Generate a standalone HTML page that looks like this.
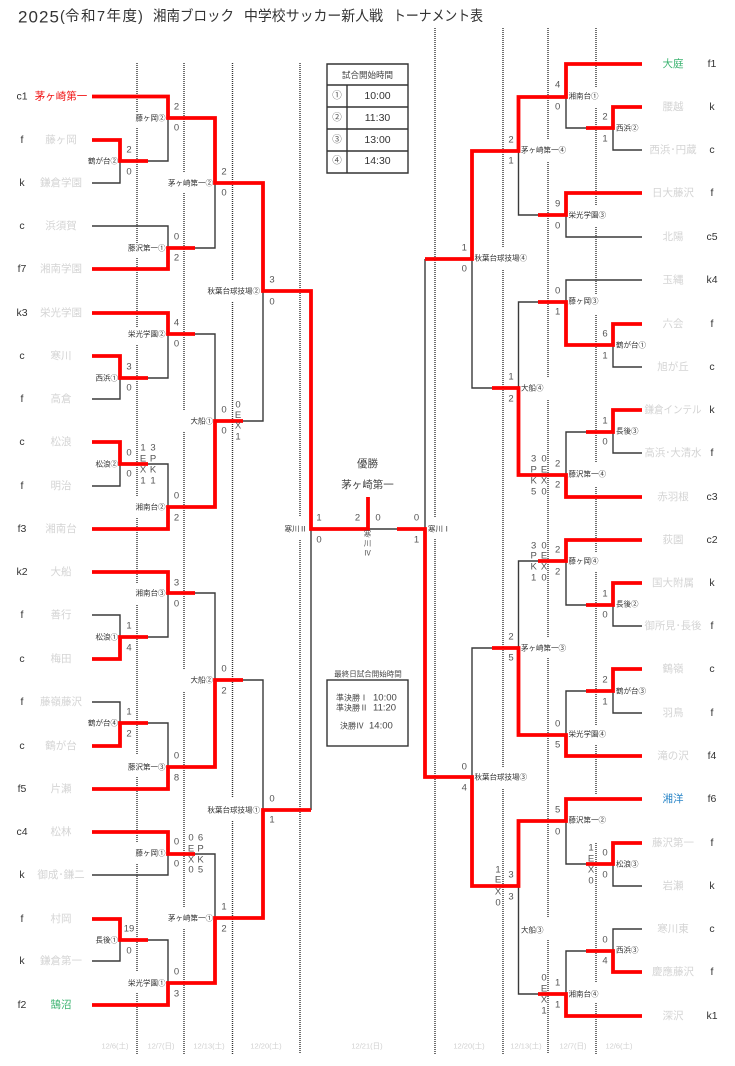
<!DOCTYPE html>
<html lang="ja"><head><meta charset="utf-8"><title>トーナメント表</title>
<style>
html,body{margin:0;padding:0;background:#fff;width:735px;height:1066px;overflow:hidden}
svg{display:block}
.bl{filter:blur(0.35px)}
text{font-family:"Liberation Sans","Noto Sans CJK JP",sans-serif;dominant-baseline:central}
.d{stroke:#333;stroke-width:1.4;stroke-dasharray:1 1;fill:none}
.k{stroke:#3a3a3a;stroke-width:1.4;fill:none}
.r{stroke:#f00;stroke-width:3.8;fill:none;stroke-linejoin:miter}
.t{font-size:10.5px;fill:#d4d4d4;text-anchor:middle}
.s{font-size:10.5px;fill:#333;text-anchor:middle}
.n{font-size:9.5px;fill:#555;text-anchor:middle}
.e{font-size:7.5px;fill:#333;text-anchor:end}
.b{font-size:7.5px;fill:#333;text-anchor:start}
.dt{font-size:7.5px;fill:#d0d0d0;text-anchor:middle}
.h{font-size:14.5px;fill:#333}
</style></head><body>
<svg width="735" height="1066" viewBox="0 0 735 1066" xmlns="http://www.w3.org/2000/svg">

<!-- dotted -->
<path class="d" d="M137 63V113M137 128V243M137 258V327M137 345V497M137 518V583M137 605V755M137 777V843M137 864V972M137 993V1054
M184 63V172M184 193V410M184 432V670M184 692V908M184 929V1054
M232.5 63V280M232.5 302V798M232.5 821V1054
M300 63V517M300 540V1054
M435 28V517M435 539V1054
M503 28V248M503 270V767M503 789V1054
M548 28V140M548 162V378M548 400V637M548 658V918M548 940V1054
M596 28V87M596 108V205M596 227V295M596 315V463M596 487V552M596 572V725M596 745V795M596 843V983M596 1003V1054"/>

<g class="bl">
<text class="h" x="18" y="17" style="font-size:17px" textLength="41" lengthAdjust="spacing">2025</text>
<text class="h" x="60" y="17">(</text>
<text class="h" x="65" y="17" textLength="72" lengthAdjust="spacing">令和7年度</text>
<text class="h" x="138" y="17">)</text>
<text class="h" x="153" y="17" textLength="81" lengthAdjust="spacingAndGlyphs">湘南ブロック</text>
<text class="h" x="244" y="17" textLength="139" lengthAdjust="spacingAndGlyphs">中学校サッカー新人戦</text>
<text class="h" x="393" y="17" textLength="90" lengthAdjust="spacingAndGlyphs">トーナメント表</text>

<!-- black lines -->
<path class="k" d="M92 183H120V161M148 161H168V118M92 226H168V248M195 248H215V183
M92 399H120V378M148 378H168V334M195 334H215V421M148 464H168V507M120 464V486H92M243 421H263V291
M92 615H120V637M148 637H168V593M195 593H215V680M92 702H120V723M148 723H168V767M243 680H263V810
M195 854H215V918M92 875H168V854M120 940V961H92M148 940H168V983
M311 291V810M368 529H397M425 259V529
M642 150H613V128M586 128H566V97M518.5 151V215H538M642 237H566V215M472 259V388H492
M642 280H566V302M538 302H518.5V388M613 345V367H642M566 475V432H586M613 432V453H642
M566 561V605H586M613 605V626H642M538 561H518.5V648M492 648H472V777M566 735V691H586M613 691V713H642
M566 821V864H586M613 864V886H642M518.5 886V994H538M566 994V951H586M613 951V929H642"/>

<!-- red lines -->
<path class="r" d="M92 96.5H168V118H215V183H263V291H311V529H368V497"/>
<path class="r" d="M92 140H120V161H148"/>
<path class="r" d="M92 269H168V248H195"/>
<path class="r" d="M92 313H168V334H195"/>
<path class="r" d="M92 356H120V378H148"/>
<path class="r" d="M92 442H120V464H148"/>
<path class="r" d="M92 529H168V507H215V421H243"/>
<path class="r" d="M92 572H168V593H195"/>
<path class="r" d="M92 659H120V637H148"/>
<path class="r" d="M92 746H120V723H148"/>
<path class="r" d="M92 789H168V767H215V680H243"/>
<path class="r" d="M92 832H168V854H195"/>
<path class="r" d="M92 919H120V940H148"/>
<path class="r" d="M92 1005H168V983H215V918H263V810H311"/>
<path class="r" d="M642 64H566V97H518.5V151H472V259H425"/>
<path class="r" d="M642 107H613V128H586"/>
<path class="r" d="M642 193H566V215H538"/>
<path class="r" d="M642 324H613V345H566V302H538"/>
<path class="r" d="M642 410H613V432H586"/>
<path class="r" d="M642 497H566V475H518.5V388H492"/>
<path class="r" d="M642 540H566V561H538"/>
<path class="r" d="M642 583H613V605H586"/>
<path class="r" d="M642 669H613V691H586"/>
<path class="r" d="M642 756H566V735H518.5V648H492"/>
<path class="r" d="M642 799H566V821H518.5V886H472V777H425V529H397"/>
<path class="r" d="M642 843H613V864H586"/>
<path class="r" d="M642 972H613V951H586"/>
<path class="r" d="M642 1016H566V994H538"/>

<!-- left seeds -->
<text class="s" x="22" y="96.5">c1</text><text class="s" x="22" y="140">f</text><text class="s" x="22" y="183">k</text><text class="s" x="22" y="226">c</text><text class="s" x="22" y="269">f7</text><text class="s" x="22" y="313">k3</text><text class="s" x="22" y="356">c</text><text class="s" x="22" y="399">f</text><text class="s" x="22" y="442">c</text><text class="s" x="22" y="486">f</text><text class="s" x="22" y="529">f3</text><text class="s" x="22" y="572">k2</text><text class="s" x="22" y="615">f</text><text class="s" x="22" y="659">c</text><text class="s" x="22" y="702">f</text><text class="s" x="22" y="746">c</text><text class="s" x="22" y="789">f5</text><text class="s" x="22" y="832">c4</text><text class="s" x="22" y="875">k</text><text class="s" x="22" y="919">f</text><text class="s" x="22" y="961">k</text><text class="s" x="22" y="1005">f2</text>
<!-- left teams -->
<text class="t" x="61" y="96.5" style="fill:#f01010">茅ヶ崎第一</text><text class="t" x="61" y="140">藤ヶ岡</text><text class="t" x="61" y="183">鎌倉学園</text><text class="t" x="61" y="226">浜須賀</text><text class="t" x="61" y="269">湘南学園</text><text class="t" x="61" y="313">栄光学園</text><text class="t" x="61" y="356">寒川</text><text class="t" x="61" y="399">高倉</text><text class="t" x="61" y="442">松浪</text><text class="t" x="61" y="486">明治</text><text class="t" x="61" y="529">湘南台</text><text class="t" x="61" y="572">大船</text><text class="t" x="61" y="615">善行</text><text class="t" x="61" y="659">梅田</text><text class="t" x="61" y="702">藤嶺藤沢</text><text class="t" x="61" y="746">鶴が台</text><text class="t" x="61" y="789">片瀬</text><text class="t" x="61" y="832">松林</text><text class="t" x="61" y="875">御成･鎌二</text><text class="t" x="61" y="919">村岡</text><text class="t" x="61" y="961">鎌倉第一</text><text class="t" x="61" y="1005" style="fill:#3cb371">鵠沼</text>

<!-- right teams -->
<text class="t" x="673" y="64" style="fill:#3cb371">大庭</text><text class="t" x="673" y="107">腰越</text><text class="t" x="673" y="150">西浜･円蔵</text><text class="t" x="673" y="193">日大藤沢</text><text class="t" x="673" y="237">北陽</text><text class="t" x="673" y="280">玉縄</text><text class="t" x="673" y="324">六会</text><text class="t" x="673" y="367">旭が丘</text><text class="t" x="673" y="410" textLength="57" lengthAdjust="spacingAndGlyphs">鎌倉インテル</text><text class="t" x="673" y="453" textLength="57" lengthAdjust="spacingAndGlyphs">高浜･大清水</text><text class="t" x="673" y="497">赤羽根</text><text class="t" x="673" y="540">荻園</text><text class="t" x="673" y="583">国大附属</text><text class="t" x="673" y="626" textLength="57" lengthAdjust="spacingAndGlyphs">御所見･長後</text><text class="t" x="673" y="669">鶴嶺</text><text class="t" x="673" y="713">羽鳥</text><text class="t" x="673" y="756">滝の沢</text><text class="t" x="673" y="799" style="fill:#2a86c8">湘洋</text><text class="t" x="673" y="843">藤沢第一</text><text class="t" x="673" y="886">岩瀬</text><text class="t" x="673" y="929">寒川東</text><text class="t" x="673" y="972">慶應藤沢</text><text class="t" x="673" y="1016">深沢</text>
<!-- right seeds -->
<text class="s" x="712" y="64">f1</text><text class="s" x="712" y="107">k</text><text class="s" x="712" y="150">c</text><text class="s" x="712" y="193">f</text><text class="s" x="712" y="237">c5</text><text class="s" x="712" y="280">k4</text><text class="s" x="712" y="324">f</text><text class="s" x="712" y="367">c</text><text class="s" x="712" y="410">k</text><text class="s" x="712" y="453">f</text><text class="s" x="712" y="497">c3</text><text class="s" x="712" y="540">c2</text><text class="s" x="712" y="583">k</text><text class="s" x="712" y="626">f</text><text class="s" x="712" y="669">c</text><text class="s" x="712" y="713">f</text><text class="s" x="712" y="756">f4</text><text class="s" x="712" y="799">f6</text><text class="s" x="712" y="843">f</text><text class="s" x="712" y="886">k</text><text class="s" x="712" y="929">c</text><text class="s" x="712" y="972">f</text><text class="s" x="712" y="1016">k1</text>

<!-- left match labels -->
<text class="e" x="118" y="161">鶴が台②</text><text class="e" x="118" y="378">西浜①</text><text class="e" x="118" y="464">松浪②</text><text class="e" x="118" y="637">松浪①</text><text class="e" x="118" y="723">鶴が台④</text><text class="e" x="118" y="940">長後①</text>
<text class="e" x="165.5" y="118">藤ヶ岡②</text><text class="e" x="165.5" y="248">藤沢第一①</text><text class="e" x="165.5" y="334">栄光学園②</text><text class="e" x="165.5" y="507">湘南台②</text><text class="e" x="165.5" y="593">湘南台③</text><text class="e" x="165.5" y="767">藤沢第一③</text><text class="e" x="165.5" y="853">藤ヶ岡①</text><text class="e" x="165.5" y="983">栄光学園①</text>
<text class="e" x="213" y="183">茅ヶ崎第一②</text><text class="e" x="213" y="421">大船①</text><text class="e" x="213" y="680">大船②</text><text class="e" x="213" y="918">茅ヶ崎第一①</text>
<text class="e" x="260" y="291">秋葉台球技場②</text><text class="e" x="260" y="810">秋葉台球技場①</text>
<text class="e" x="307" y="529">寒川Ⅱ</text>

<!-- right match labels -->
<text class="b" x="428" y="529">寒川Ⅰ</text>
<text class="b" x="474.5" y="258">秋葉台球技場④</text><text class="b" x="474.5" y="777">秋葉台球技場③</text>
<text class="b" x="521" y="150">茅ヶ崎第一④</text><text class="b" x="521" y="388">大船④</text><text class="b" x="521" y="648">茅ヶ崎第一③</text><text class="b" x="521" y="930">大船③</text>
<text class="b" x="568.5" y="96">湘南台①</text><text class="b" x="568.5" y="215">栄光学園③</text><text class="b" x="568.5" y="301">藤ヶ岡③</text><text class="b" x="568.5" y="474">藤沢第一④</text><text class="b" x="568.5" y="561">藤ヶ岡④</text><text class="b" x="568.5" y="734">栄光学園④</text><text class="b" x="568.5" y="820">藤沢第一②</text><text class="b" x="568.5" y="994">湘南台④</text>
<text class="b" x="616" y="128">西浜②</text><text class="b" x="616" y="345">鶴が台①</text><text class="b" x="616" y="431">長後③</text><text class="b" x="616" y="604">長後②</text><text class="b" x="616" y="691">鶴が台③</text><text class="b" x="616" y="864">松浪③</text><text class="b" x="616" y="950">西浜③</text>

<!-- scores left -->
<text class="n" x="129" y="150">2</text><text class="n" x="129" y="172">0</text><text class="n" x="129" y="367">3</text><text class="n" x="129" y="388">0</text><text class="n" x="129" y="453">0</text><text class="n" x="129" y="474">0</text><text class="n" x="129" y="626">1</text><text class="n" x="129" y="648">4</text><text class="n" x="129" y="712">1</text><text class="n" x="129" y="734">2</text><text class="n" x="129" y="929">19</text><text class="n" x="129" y="951">0</text>
<text class="n" x="176.5" y="107">2</text><text class="n" x="176.5" y="128">0</text><text class="n" x="176.5" y="237">0</text><text class="n" x="176.5" y="258">2</text><text class="n" x="176.5" y="323">4</text><text class="n" x="176.5" y="344">0</text><text class="n" x="176.5" y="496">0</text><text class="n" x="176.5" y="518">2</text><text class="n" x="176.5" y="583">3</text><text class="n" x="176.5" y="604">0</text><text class="n" x="176.5" y="756">0</text><text class="n" x="176.5" y="778">8</text><text class="n" x="176.5" y="842">0</text><text class="n" x="176.5" y="864">0</text><text class="n" x="176.5" y="972">0</text><text class="n" x="176.5" y="994">3</text>
<text class="n" x="224" y="172">2</text><text class="n" x="224" y="193">0</text><text class="n" x="224" y="410">0</text><text class="n" x="224" y="431">0</text><text class="n" x="224" y="669">0</text><text class="n" x="224" y="691">2</text><text class="n" x="224" y="907">1</text><text class="n" x="224" y="929">2</text>
<text class="n" x="272" y="280">3</text><text class="n" x="272" y="302">0</text><text class="n" x="272" y="799">0</text><text class="n" x="272" y="820">1</text>
<text class="n" x="319" y="518">1</text><text class="n" x="319" y="540">0</text>
<text class="n" x="357.5" y="518">2</text><text class="n" x="378" y="518">0</text>
<text class="n" x="416.5" y="518">0</text><text class="n" x="416.5" y="540">1</text>

<!-- scores right -->
<text class="n" x="605" y="117">2</text><text class="n" x="605" y="139">1</text><text class="n" x="605" y="334">6</text><text class="n" x="605" y="356">1</text><text class="n" x="605" y="421">1</text><text class="n" x="605" y="442">0</text><text class="n" x="605" y="594">1</text><text class="n" x="605" y="615">0</text><text class="n" x="605" y="680">2</text><text class="n" x="605" y="702">1</text><text class="n" x="605" y="853">0</text><text class="n" x="605" y="875">0</text><text class="n" x="605" y="940">0</text><text class="n" x="605" y="961">4</text>
<text class="n" x="557.7" y="85">4</text><text class="n" x="557.7" y="107">0</text><text class="n" x="557.7" y="204">9</text><text class="n" x="557.7" y="226">0</text><text class="n" x="557.7" y="291">0</text><text class="n" x="557.7" y="312">1</text><text class="n" x="557.7" y="464">2</text><text class="n" x="557.7" y="485">2</text><text class="n" x="557.7" y="550">2</text><text class="n" x="557.7" y="572">2</text><text class="n" x="557.7" y="724">0</text><text class="n" x="557.7" y="745">5</text><text class="n" x="557.7" y="810">5</text><text class="n" x="557.7" y="832">0</text><text class="n" x="557.7" y="983">1</text><text class="n" x="557.7" y="1005">1</text>
<text class="n" x="511" y="140">2</text><text class="n" x="511" y="161">1</text><text class="n" x="511" y="377">1</text><text class="n" x="511" y="399">2</text><text class="n" x="511" y="637">2</text><text class="n" x="511" y="658">5</text><text class="n" x="511" y="875">3</text><text class="n" x="511" y="897">3</text>
<text class="n" x="464.3" y="248">1</text><text class="n" x="464.3" y="269">0</text><text class="n" x="464.3" y="767">0</text><text class="n" x="464.3" y="788">4</text>

<!-- EX / PK stacks -->
<text class="n" x="238" y="405">0</text><text class="n" x="238" y="415.5">E</text><text class="n" x="238" y="426">X</text><text class="n" x="238" y="437">1</text>
<text class="n" x="143" y="448">1</text><text class="n" x="143" y="459">E</text><text class="n" x="143" y="470">X</text><text class="n" x="143" y="481">1</text>
<text class="n" x="153" y="448">3</text><text class="n" x="153" y="459">P</text><text class="n" x="153" y="470">K</text><text class="n" x="153" y="481">1</text>
<text class="n" x="191" y="838">0</text><text class="n" x="191" y="849">E</text><text class="n" x="191" y="860">X</text><text class="n" x="191" y="870">0</text>
<text class="n" x="200.5" y="838">6</text><text class="n" x="200.5" y="849">P</text><text class="n" x="200.5" y="860">K</text><text class="n" x="200.5" y="870">5</text>
<text class="n" x="591" y="848">1</text><text class="n" x="591" y="859">E</text><text class="n" x="591" y="870">X</text><text class="n" x="591" y="881">0</text>
<text class="n" x="533.7" y="459">3</text><text class="n" x="533.7" y="470">P</text><text class="n" x="533.7" y="481">K</text><text class="n" x="533.7" y="492">5</text>
<text class="n" x="544" y="459">0</text><text class="n" x="544" y="470">E</text><text class="n" x="544" y="481">X</text><text class="n" x="544" y="492">0</text>
<text class="n" x="533.7" y="546">3</text><text class="n" x="533.7" y="556">P</text><text class="n" x="533.7" y="567">K</text><text class="n" x="533.7" y="578">1</text>
<text class="n" x="544" y="546">0</text><text class="n" x="544" y="556">E</text><text class="n" x="544" y="567">X</text><text class="n" x="544" y="578">0</text>
<text class="n" x="544" y="978">0</text><text class="n" x="544" y="989">E</text><text class="n" x="544" y="1000">X</text><text class="n" x="544" y="1011">1</text>
<text class="n" x="498" y="870">1</text><text class="n" x="498" y="880">E</text><text class="n" x="498" y="892">X</text><text class="n" x="498" y="903">0</text>

<!-- centre -->
<text x="367.5" y="464" text-anchor="middle" style="font-size:10.5px;fill:#444">優勝</text>
<text x="367.5" y="485" text-anchor="middle" style="font-size:10.5px;fill:#444">茅ヶ崎第一</text>
<text class="n" x="367.5" y="534" style="font-size:7.5px">寒</text><text class="n" x="367.5" y="543.5" style="font-size:7.5px">川</text><text class="n" x="367.5" y="553" style="font-size:7.5px">Ⅳ</text>

<!-- time table -->
<path d="M327 64H408V173H327ZM327 85H408M327 107H408M327 129H408M327 151H408M347 85V173" fill="none" stroke="#333" stroke-width="1.4"/>
<text x="367.5" y="75" text-anchor="middle" style="font-size:8.5px;fill:#444">試合開始時間</text>
<text x="337" y="96" text-anchor="middle" style="font-size:9.5px;fill:#555">①</text><text x="377.5" y="96" text-anchor="middle" style="font-size:10.5px;fill:#333">10:00</text>
<text x="337" y="118" text-anchor="middle" style="font-size:9.5px;fill:#555">②</text><text x="377.5" y="118" text-anchor="middle" style="font-size:10.5px;fill:#333">11:30</text>
<text x="337" y="140" text-anchor="middle" style="font-size:9.5px;fill:#555">③</text><text x="377.5" y="140" text-anchor="middle" style="font-size:10.5px;fill:#333">13:00</text>
<text x="337" y="161" text-anchor="middle" style="font-size:9.5px;fill:#555">④</text><text x="377.5" y="161" text-anchor="middle" style="font-size:10.5px;fill:#333">14:30</text>

<!-- final times -->
<text x="368" y="674" text-anchor="middle" style="font-size:7.5px;fill:#444">最終日試合開始時間</text>
<rect x="327" y="680" width="81" height="66" fill="none" stroke="#333" stroke-width="1.4"/>
<text x="336" y="698" style="font-size:8px;fill:#444">準決勝Ⅰ</text><text x="373" y="698" style="font-size:9.5px;fill:#444">10:00</text>
<text x="336" y="708" style="font-size:8px;fill:#444">準決勝Ⅱ</text><text x="373" y="708" style="font-size:9.5px;fill:#444">11:20</text>
<text x="340" y="726" style="font-size:8px;fill:#444">決勝Ⅳ</text><text x="369" y="726" style="font-size:9.5px;fill:#444">14:00</text>

<!-- dates -->
<text class="dt" x="115" y="1046">12/6(土)</text><text class="dt" x="161" y="1046">12/7(日)</text><text class="dt" x="209" y="1046">12/13(土)</text><text class="dt" x="266" y="1046">12/20(土)</text><text class="dt" x="367" y="1046">12/21(日)</text><text class="dt" x="469" y="1046">12/20(土)</text><text class="dt" x="526" y="1046">12/13(土)</text><text class="dt" x="573" y="1046">12/7(日)</text><text class="dt" x="619" y="1046">12/6(土)</text>
</g>
</svg>
</body></html>
